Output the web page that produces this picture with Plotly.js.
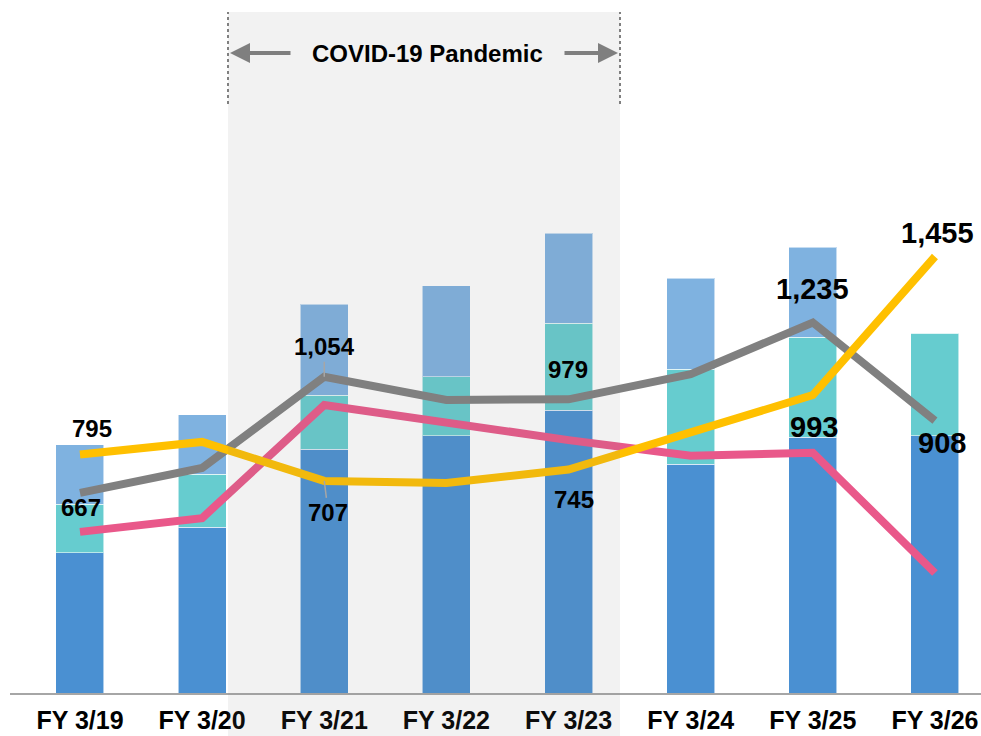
<!DOCTYPE html>
<html>
<head>
<meta charset="utf-8">
<script src="https://cdn.plot.ly/plotly-3.0.1.min.js"></script>
<style>html,body{margin:0;padding:0;background:#fff;}#chart{width:981px;height:736px;}</style>
</head>
<body>
<div id="chart"></div>
<script>
var categories = ['FY 3/19','FY 3/20','FY 3/21','FY 3/22','FY 3/23','FY 3/24','FY 3/25','FY 3/26'];
var barBottom = [467, 553, 813, 857, 943, 763, 853, 857];
var barMiddle = [163, 177, 180, 197, 290, 317, 333, 343];
var barTop    = [197, 197, 303, 303, 300, 303, 300, 0];
var yellowLine = [795, 837, 707, 700, 745, 872, 993, 1455];
var grayLine   = [667, 750, 1054, 977, 979, 1063, 1235, 908];
var pinkLine   = [537, 583, 960, 900, 843, 791, 801, 400];

// labels: [index, text, dx, dy(up positive), big, leader]
var yellowLabels = [[0,'795',12,26,false],[2,'707',4,-32,false,true],[4,'745',5,-30,false],[6,'993',1,-32,true],[7,'1,455',3,24,true]];
var grayLabels   = [[0,'667',1,-15,false],[2,'1,054',0,30,false,true],[4,'979',-1,30,false],[6,'1,235',0,34,true],[7,'908',7,-22,true]];

var fontFam = 'Liberation Sans, Arial, Helvetica, sans-serif';
var barW = 0.393;
var barLine = {color:'rgba(255,255,255,0.55)', width:1};

var traces = [
  {type:'bar', x:categories, y:barBottom, width:barW, marker:{color:'#4A90D2', line:barLine}, hoverinfo:'skip'},
  {type:'bar', x:categories, y:barMiddle, width:barW, marker:{color:'#66CCCF', line:barLine}, hoverinfo:'skip'},
  {type:'bar', x:categories, y:barTop, width:barW, marker:{color:'#7FB2E0', line:barLine}, hoverinfo:'skip'},
  {type:'scatter', mode:'lines', x:categories, y:pinkLine, line:{color:'#E9588A', width:8}, hoverinfo:'skip'},
  {type:'scatter', mode:'lines', x:categories, y:grayLine, line:{color:'#808080', width:8}, hoverinfo:'skip'},
  {type:'scatter', mode:'lines', x:categories, y:yellowLine, line:{color:'#FFC000', width:8}, hoverinfo:'skip'}
];

function px2px(p){ return (p-10)/971; }
function py2py(p){ return (693-p)/681; }

var annotations = [];
function addLabels(list, series){
  list.forEach(function(l){
    var i = l[0];
    var a = {x:categories[i], y:series[i], text:l[1], xref:'x', yref:'y', xanchor:'center', yanchor:'middle',
      font:{family:fontFam, size:l[4]?29:24, color:'#000000', weight:'bold'}};
    if (l[5]) {
      a.showarrow = true; a.arrowhead = 0; a.arrowwidth = 1.5; a.arrowcolor = '#A6A6A6';
      a.ax = l[2]; a.ay = -l[3]; a.axref = 'pixel'; a.ayref = 'pixel'; a.standoff = 0;
    } else {
      a.showarrow = false; a.xshift = l[2]; a.yshift = l[3];
    }
    annotations.push(a);
  });
}
addLabels(yellowLabels, yellowLine);
addLabels(grayLabels, grayLine);

annotations.push({xref:'paper', yref:'paper', x:px2px(427), y:py2py(53), xanchor:'center', yanchor:'middle',
  text:'COVID-19 Pandemic', showarrow:false,
  font:{family:fontFam, size:24, color:'#000000', weight:'bold'}});
annotations.push({xref:'paper', yref:'paper', x:px2px(230), y:py2py(53), text:'', showarrow:true, arrowhead:2, arrowsize:1,
  arrowwidth:4, arrowcolor:'#7F7F7F', ax:62, ay:0, standoff:0});
annotations.push({xref:'paper', yref:'paper', x:px2px(618), y:py2py(53), text:'', showarrow:true, arrowhead:2, arrowsize:1,
  arrowwidth:4, arrowcolor:'#7F7F7F', ax:-55, ay:0, standoff:0});

var shapes = [
  {type:'rect', xref:'paper', yref:'paper', x0:px2px(228), x1:px2px(620), y0:py2py(736), y1:py2py(12),
    fillcolor:'rgba(125,125,125,0.1)', line:{width:0}, layer:'above'},
  {type:'line', xref:'paper', yref:'paper', x0:px2px(228), x1:px2px(228), y0:py2py(104), y1:py2py(12),
    line:{color:'#808080', width:2, dash:'dot'}},
  {type:'line', xref:'paper', yref:'paper', x0:px2px(620), x1:px2px(620), y0:py2py(104), y1:py2py(12),
    line:{color:'#808080', width:2, dash:'dot'}}
];

var layout = {
  width:981, height:736,
  margin:{l:10, r:0, t:12, b:43},
  paper_bgcolor:'#FFFFFF', plot_bgcolor:'#FFFFFF',
  barmode:'stack', showlegend:false,
  xaxis:{type:'category', range:[-0.573, 7.377], showline:true, linecolor:'#A6A6A6', linewidth:2,
    showgrid:false, zeroline:false, ticks:'', ticklabelstandoff:4,
    tickfont:{family:fontFam, size:25, color:'#000000', weight:'bold'}},
  yaxis:{range:[0, 2270], visible:false, showgrid:false, zeroline:false},
  shapes:shapes, annotations:annotations,
  font:{family:fontFam}
};

Plotly.newPlot('chart', traces, layout, {staticPlot:true, displayModeBar:false});
</script>
</body>
</html>
